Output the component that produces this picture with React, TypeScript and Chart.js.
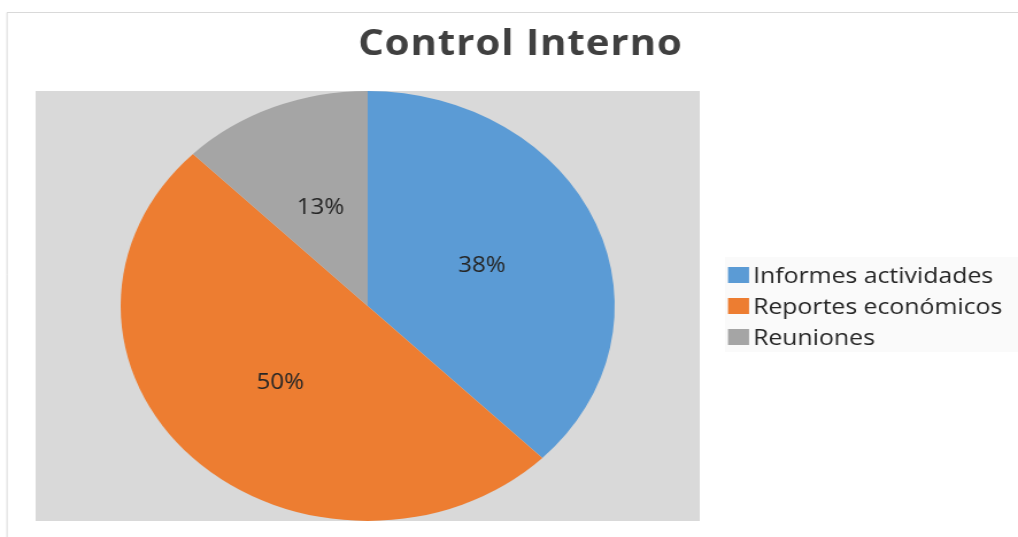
import { useEffect, useRef } from "react";
import Chart from "chart.js/auto";

const TITLE = "Control Interno";
const categories = ["Informes actividades", "Reportes económicos", "Reuniones"];
const values = [3, 4, 1];
const colors = ["#5b9bd5", "#ed7d31", "#a5a5a5"];

const SX = 1.149;
const W = 886;
const H = 537;
const FONT = "'Open Sans', 'DejaVu Sans', sans-serif";
const TITLE_COLOR = "#404040";
const TEXT = "#262626";

export default function App() {
  const ref = useRef<HTMLCanvasElement | null>(null);

  useEffect(() => {
    document.body.style.margin = "0";
    const canvas = ref.current;
    if (!canvas) return;
    const total = values.reduce((a, b) => a + b, 0);

    const deco = {
      id: "deco",
      beforeDraw(chart: any) {
        const ctx = chart.ctx;
        const a = chart.chartArea;
        ctx.save();
        ctx.fillStyle = "#ffffff";
        ctx.fillRect(0, 0, W, H);
        ctx.strokeStyle = "#d9d9d9";
        ctx.lineWidth = 1;
        ctx.beginPath();
        ctx.moveTo(6.1, 12.5);
        ctx.lineTo(W, 12.5);
        ctx.moveTo(6.1, 12.5);
        ctx.lineTo(6.1, H);
        ctx.stroke();
        ctx.fillStyle = "#d9d9d9";
        ctx.fillRect(a.left, a.top, a.right - a.left, a.bottom - a.top);
        ctx.fillStyle = "#fafafa";
        ctx.fillRect(631, 257, W - 631, 95);
        ctx.restore();
      },
      afterDatasetsDraw(chart: any) {
        const ctx = chart.ctx;
        ctx.save();
        // percentage labels
        const meta = chart.getDatasetMeta(0);
        ctx.fillStyle = TEXT;
        ctx.font = `21px ${FONT}`;
        ctx.textAlign = "center";
        ctx.textBaseline = "middle";
        meta.data.forEach((arc: any, i: number) => {
          const p = arc.tooltipPosition();
          const pct = Math.round((values[i] / total) * 100) + "%";
          ctx.fillText(pct, p.x, p.y + 1);
        });
        // title
        ctx.fillStyle = TITLE_COLOR;
        ctx.font = `bold 35px ${FONT}`;
        ctx.textAlign = "left";
        ctx.textBaseline = "alphabetic";
        (ctx as any).letterSpacing = "0.8px";
        const tw = ctx.measureText(TITLE).width - 0.8;
        ctx.fillText(TITLE, 452.6 - tw / 2, 55);
        (ctx as any).letterSpacing = "0px";
        // legend
        ctx.font = `21.6px ${FONT}`;
        ctx.textAlign = "left";
        categories.forEach((c, i) => {
          const y = 267 + i * 31;
          ctx.fillStyle = colors[i];
          ctx.fillRect(633.6, y, 18.3, 16);
          ctx.fillStyle = TEXT;
          ctx.fillText(c, 655.4, y + 16);
        });
        ctx.restore();
      },
    };

    const chart = new Chart(canvas, {
      type: "pie",
      data: {
        labels: categories,
        datasets: [
          {
            data: values,
            backgroundColor: colors,
            borderWidth: 0,
          },
        ],
      },
      options: {
        responsive: false,
        animation: false,
        layout: { padding: { left: 31, top: 91, right: W - 609, bottom: H - 521 } },
        plugins: {
          legend: { display: false },
          title: { display: false },
          tooltip: { enabled: false },
        },
      },
      plugins: [deco],
    });
    return () => chart.destroy();
  }, []);

  return (
    <div style={{ position: "fixed", left: 0, top: 0, width: 1018, height: 537, overflow: "hidden", background: "#fff" }}>
      <div style={{ width: W, height: H, transform: `scaleX(${SX})`, transformOrigin: "0 0" }}>
        <canvas ref={ref} width={W} height={H} style={{ width: W, height: H, display: "block" }} />
      </div>
    </div>
  );
}
